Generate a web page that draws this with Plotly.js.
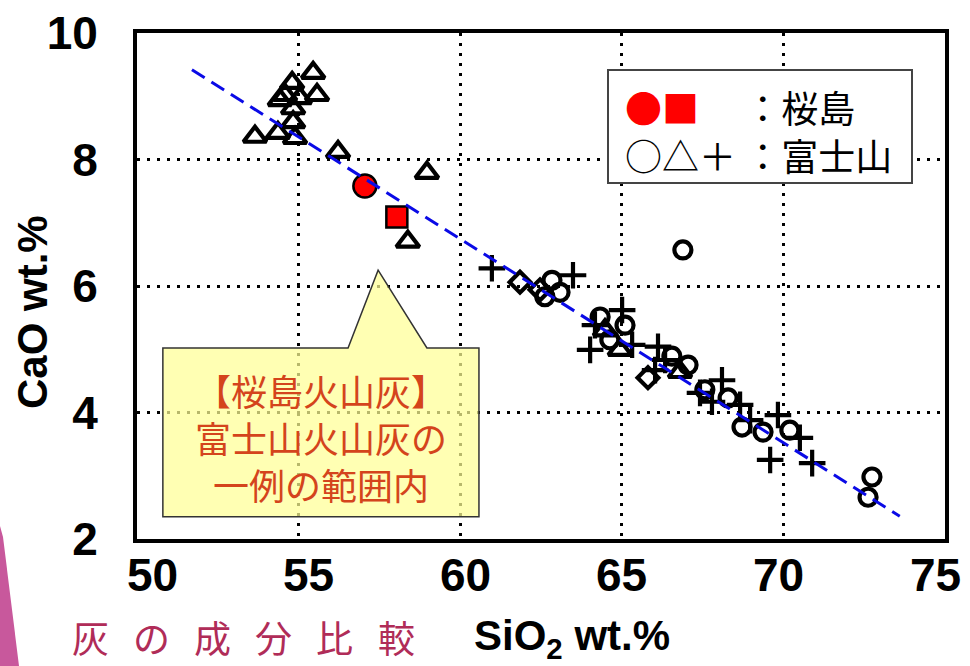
<!DOCTYPE html>
<html>
<head>
<meta charset="utf-8">
<script src="https://cdn.plot.ly/plotly-3.0.1.min.js"></script>
<style>html,body{margin:0;padding:0;background:#fff;}#chart{width:970px;height:666px;}</style>
</head>
<body>
<div id="chart"></div>
<script>
// ---- data (SiO2 wt.% , CaO wt.%) ----
const sakuraCircleX = [57.05];
const sakuraCircleY = [7.58];
const sakuraSquareX = [58.04];
const sakuraSquareY = [7.09];

const fujiTriangleX = [53.65, 54.36, 54.89, 54.83, 54.83, 54.58, 54.80, 54.42, 55.04, 55.45, 55.57, 56.22, 58.97, 58.38, 64.94, 64.48, 66.80];
const fujiTriangleY = [8.36, 8.42, 8.34, 8.59, 8.81, 9.02, 9.21, 8.94, 8.97, 9.37, 9.02, 8.12, 7.79, 6.70, 4.99, 5.30, 4.64];

const fujiCircleX = [62.62, 62.84, 63.09, 64.33, 64.63, 65.10, 66.55, 67.05, 66.89, 67.57, 68.29, 69.37, 70.20, 72.74, 72.62, 68.72];
const fujiCircleY = [5.83, 6.09, 5.90, 5.51, 5.15, 5.38, 4.89, 4.75, 6.57, 4.36, 4.23, 3.69, 3.72, 2.98, 2.66, 3.77];

const fujiCrossX = [60.98, 63.49, 64.02, 64.17, 65.01, 65.32, 66.12, 66.34, 66.03, 67.42, 68.10, 67.79, 68.66, 68.97, 69.83, 70.51, 69.59, 70.89];
const fujiCrossY = [6.28, 6.17, 4.99, 5.38, 5.62, 5.07, 5.04, 4.83, 4.67, 4.31, 4.51, 4.17, 4.12, 3.88, 3.96, 3.60, 3.25, 3.20];

const fujiDiamondX = [61.85, 62.47, 65.81];
const fujiDiamondY = [6.06, 5.94, 4.55];

const trendX = [51.7, 73.6];
const trendY = [9.42, 2.36];

const xTicks = [50, 55, 60, 65, 70, 75];
const yTicks = [2, 4, 6, 8, 10];

const xTitle = 'SiO<sub>2</sub> wt.%';
const yTitle = 'CaO wt.%';
const pageTitle = '灰の成分比較';
const legendRow1Sym = '●■';
const legendRow1Txt = '：桜島';
const legendRow2Sym = '○△＋';
const legendRow2Txt = '：富士山';
const calloutLines = ['【桜島火山灰】', '富士山火山灰の', '一例の範囲内'];

// ---- traces ----
const blackOpen = (sym, size) => ({symbol: sym, size: size, color: 'black', line: {color: 'black', width: 4.2}});
const traces = [
  {x: fujiTriangleX, y: fujiTriangleY, mode: 'markers', type: 'scatter', marker: blackOpen('triangle-up-open', 20), hoverinfo: 'x+y'},
  {x: fujiCircleX, y: fujiCircleY, mode: 'markers', type: 'scatter', marker: blackOpen('circle-open', 17), hoverinfo: 'x+y'},
  {x: fujiCrossX, y: fujiCrossY, mode: 'markers', type: 'scatter', marker: blackOpen('cross-thin-open', 19), hoverinfo: 'x+y'},
  {x: fujiDiamondX, y: fujiDiamondY, mode: 'markers', type: 'scatter', marker: blackOpen('diamond-open', 16), hoverinfo: 'x+y'},
  {x: sakuraCircleX, y: sakuraCircleY, mode: 'markers', type: 'scatter', marker: {symbol: 'circle', size: 23, color: '#ff0000', line: {color: 'black', width: 2.5}}},
  {x: sakuraSquareX, y: sakuraSquareY, mode: 'markers', type: 'scatter', marker: {symbol: 'square', size: 21, color: '#ff0000', line: {color: 'black', width: 2.5}}},
  {x: trendX, y: trendY, mode: 'lines', type: 'scatter', line: {color: '#0a0ae6', width: 3, dash: '15px,8px'}, hoverinfo: 'skip'}
];

// ---- layout helpers (pixel -> paper) ----
const L = 137, T = 33, W = 808, H = 506;
const px = v => (v - L) / W;
const py = v => (T + H - v) / H;

const tickFont = {family: 'Liberation Sans, Arial, sans-serif', size: 46, color: 'black', weight: 'bold'};
const annotations = [];
// x tick labels (placed at the tick values, slightly compressed like the scanned original)
xTicks.forEach(v => {
  annotations.push({xref: 'x', yref: 'paper', x: v, y: py(575), text: String(v), showarrow: false, xshift: 15 - (v - 50),
    font: tickFont, xanchor: 'center', yanchor: 'middle'});
});
// axis titles
annotations.push({xref: 'paper', yref: 'paper', x: px(33), y: py(312), text: '<b>' + yTitle + '</b>', textangle: -90, showarrow: false,
  font: {family: 'Liberation Sans, Arial, sans-serif', size: 42, color: 'black'}, xanchor: 'center', yanchor: 'middle'});
annotations.push({xref: 'paper', yref: 'paper', x: px(572), y: py(638), text: '<b>' + xTitle + '</b>', showarrow: false,
  font: {family: 'Liberation Sans, Arial, sans-serif', size: 42, color: 'black'}, xanchor: 'center', yanchor: 'middle'});
// page title, letter-spaced
Array.from(pageTitle).forEach((ch, i) => {
  annotations.push({xref: 'paper', yref: 'paper', x: px(90 + i * 61.2), y: py(637), text: ch, showarrow: false,
    font: {family: 'Noto Sans CJK JP', size: 37, color: '#b02c58'}, xanchor: 'center', yanchor: 'middle'});
});
// legend (two rows in one text)
annotations.push({xref: 'paper', yref: 'paper', x: px(623), y: py(131),
  text: '<span style="color:#ff0000">' + legendRow1Sym + '</span>\u3000 ' + legendRow1Txt + '<br>' + legendRow2Sym + ' ' + legendRow2Txt,
  showarrow: false, align: 'left',
  font: {family: 'Noto Sans CJK JP', size: 37, color: 'black'}, xanchor: 'left', yanchor: 'middle'});
// callout text
annotations.push({xref: 'paper', yref: 'paper', x: px(321), y: py(437), text: calloutLines.join('<br>'), showarrow: false,
  font: {family: 'Noto Sans CJK JP', size: 36, color: '#d4441c'}, xanchor: 'center', yanchor: 'middle', align: 'center'});

const shapes = [
  // legend box
  {type: 'rect', xref: 'paper', yref: 'paper', x0: px(608), x1: px(912), y0: py(183), y1: py(70),
    fillcolor: 'white', line: {color: '#444', width: 2}, layer: 'above'},
  // callout balloon
  {type: 'path', xref: 'x', yref: 'y', layer: 'above',
    path: 'M50.80,5.02 L56.53,5.02 L57.46,6.25 L58.97,5.02 L60.58,5.02 L60.58,2.35 L50.80,2.35 Z',
    fillcolor: 'rgba(255,255,150,0.72)', line: {color: '#333', width: 1.5}},
  // pink decoration
  {type: 'path', xref: 'paper', yref: 'paper', layer: 'above',
    path: 'M' + px(0) + ',' + py(526) + ' L' + px(3) + ',' + py(537) + ' L' + px(19) + ',' + py(666) + ' L' + px(0) + ',' + py(666) + ' Z',
    fillcolor: '#c8589c', line: {width: 0}}
];

const axisCommon = {
  showgrid: true, gridcolor: 'black', gridwidth: 3, griddash: '3px,7px',
  showline: true, mirror: true, linecolor: 'black', linewidth: 4,
  zeroline: false, ticks: '',
  tickfont: tickFont
};

const layout = {
  width: 970, height: 666,
  margin: {l: L, r: 970 - L - W, t: T, b: 666 - T - H},
  paper_bgcolor: 'white', plot_bgcolor: 'white',
  showlegend: false,
  xaxis: Object.assign({}, axisCommon, {range: [50, 75], tickvals: xTicks, showticklabels: false}),
  yaxis: Object.assign({}, axisCommon, {range: [2, 10], tickvals: yTicks, ticktext: yTicks.map(String), ticklabelstandoff: 26}),
  annotations: annotations,
  shapes: shapes
};

Plotly.newPlot('chart', traces, layout, {staticPlot: true});
</script>
</body>
</html>
